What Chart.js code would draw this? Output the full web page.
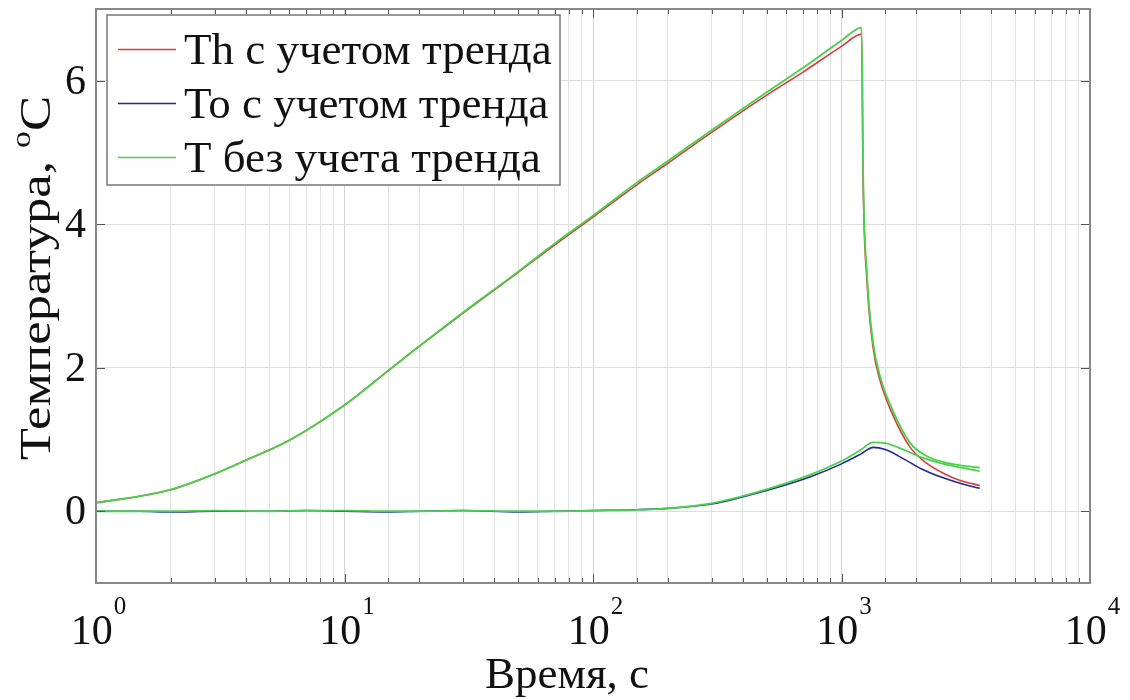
<!DOCTYPE html>
<html>
<head>
<meta charset="utf-8">
<script src="https://cdn.jsdelivr.net/npm/chart.js@4/dist/chart.umd.min.js"></script>
<style>
  html, body { margin: 0; padding: 0; background: #fff; }
  #wrap { width: 1130px; height: 700px; }
</style>
</head>
<body>
<div id="wrap"><canvas id="c" width="1130" height="700"></canvas></div>
<script>
// upper curve (heating then cooling), time in s
const timeTop = [1, 1.5, 2, 3, 4, 6, 10, 15, 20, 30, 50, 70, 100, 150, 200, 300, 500, 700, 1000, 1205, 1222, 1267, 1340, 1430, 1600, 1890, 2200, 2600, 3000, 3600];
const thTrend = [0.12, 0.21, 0.30, 0.52, 0.71, 0.99, 1.48, 1.96, 2.30, 2.76, 3.33, 3.71, 4.10, 4.55, 4.85, 5.28, 5.80, 6.12, 6.48, 6.65, 4.60, 3.20, 2.28, 1.82, 1.36, 0.89, 0.67, 0.52, 0.43, 0.36];
const thNoTrend = [0.12, 0.21, 0.30, 0.52, 0.71, 0.99, 1.48, 1.96, 2.30, 2.77, 3.34, 3.73, 4.12, 4.58, 4.88, 5.31, 5.84, 6.18, 6.56, 6.74, 4.70, 3.28, 2.35, 1.88, 1.42, 0.95, 0.77, 0.68, 0.64, 0.61];

// lower curve
const timeLow = [1, 1.5, 2, 3, 5, 7, 10, 15, 20, 30, 50, 70, 100, 150, 200, 300, 400, 550, 750, 1000, 1200, 1340, 1500, 1800, 2100, 2500, 3000, 3600];
const toTrend = [0.00, 0.00, -0.01, 0.00, 0.00, 0.01, 0.00, -0.01, 0.00, 0.01, -0.01, 0.00, 0.01, 0.02, 0.04, 0.10, 0.20, 0.33, 0.48, 0.66, 0.80, 0.89, 0.86, 0.72, 0.59, 0.48, 0.39, 0.32];
const toNoTrend = [0.00, 0.00, 0.00, 0.01, 0.00, 0.01, 0.01, 0.00, 0.00, 0.01, 0.00, 0.00, 0.01, 0.02, 0.04, 0.11, 0.21, 0.35, 0.51, 0.70, 0.86, 0.96, 0.95, 0.85, 0.75, 0.67, 0.61, 0.56];

const seriesNames = ["Th с учетом тренда", "To с учетом тренда", "T без учета тренда"];
const xDecades = [1, 10, 100, 1000, 10000];
const yTicks = [0, 2, 4, 6];

const RED = "#e0393c", BLUE = "#26279a", GREEN = "#46d34a";
const serif = "'Liberation Serif', 'Times New Roman', serif";

function pts(xs, ys) {
  return xs.map((x, i) => ({ x: x, y: ys[i] }));
}

function isDecade(v) {
  const l = Math.log10(v);
  return Math.abs(l - Math.round(l)) < 1e-9;
}

const decor = {
  id: "decor",
  beforeDraw(chart) {
    const c = chart.ctx;
    c.save();
    c.fillStyle = "#fff";
    c.fillRect(0, 0, chart.width, chart.height);
    c.restore();
  },
  afterDraw(chart) {
    const c = chart.ctx, a = chart.chartArea;
    const xs = chart.scales.x, ys = chart.scales.y;
    c.save();

    // inward ticks like matlab
    c.strokeStyle = "#555";
    c.lineWidth = 1;
    c.beginPath();
    xs.ticks.forEach(t => {
      const px = Math.round(xs.getPixelForValue(t.value)) + 0.5;
      const len = isDecade(t.value) ? 9 : 5;
      c.moveTo(px, a.bottom); c.lineTo(px, a.bottom - len);
      c.moveTo(px, a.top); c.lineTo(px, a.top + len);
    });
    yTicks.forEach(v => {
      const py = Math.round(ys.getPixelForValue(v)) + 0.5;
      c.moveTo(a.left, py); c.lineTo(a.left + 9, py);
      c.moveTo(a.right, py); c.lineTo(a.right - 9, py);
    });
    c.stroke();

    // box
    c.strokeStyle = "#888";
    c.lineWidth = 2;
    c.strokeRect(a.left, a.top, a.right - a.left, a.bottom - a.top);

    // y tick labels
    c.fillStyle = "#111";
    c.font = "42px " + serif;
    c.textAlign = "right";
    c.textBaseline = "middle";
    yTicks.forEach(v => c.fillText(String(v), a.left - 10, ys.getPixelForValue(v) + 2));

    // x tick labels 10^n
    c.textAlign = "left";
    c.textBaseline = "alphabetic";
    xDecades.forEach(v => {
      const e = String(Math.round(Math.log10(v)));
      c.font = "42px " + serif;
      const w1 = c.measureText("10").width;
      c.font = "25px " + serif;
      const w2 = c.measureText(e).width;
      const x0 = xs.getPixelForValue(v) - (w1 + w2) / 2 + 2;
      c.font = "42px " + serif;
      c.fillText("10", x0, 644);
      c.font = "25px " + serif;
      c.fillText(e, x0 + w1 + 1, 614);
    });

    // x title
    c.font = "45px " + serif;
    c.textAlign = "center";
    c.fillText("Время, с", 567, 688);

    // y title with superscript o, stretched along its length
    c.translate(50, 278);
    c.rotate(-Math.PI / 2);
    c.scale(1.2, 1);
    const p1 = "Температура, ", p2 = "o", p3 = "C";
    c.font = "44px " + serif;
    const w1 = c.measureText(p1).width, w3 = c.measureText(p3).width;
    c.font = "28px " + serif;
    const w2 = c.measureText(p2).width;
    let x = -(w1 + w2 + w3) / 2;
    c.textAlign = "left";
    c.font = "44px " + serif;
    c.fillText(p1, x, 0);
    c.font = "28px " + serif;
    c.fillText(p2, x + w1, -20);
    c.font = "44px " + serif;
    c.fillText(p3, x + w1 + w2, 0);
    c.setTransform(1, 0, 0, 1, 0, 0);

    // legend box
    c.fillStyle = "#fff";
    c.fillRect(107, 15, 453, 170);
    c.strokeStyle = "#777";
    c.lineWidth = 1.5;
    c.strokeRect(107, 15, 453, 170);
    c.font = "45px " + serif;
    c.textAlign = "left";
    c.textBaseline = "alphabetic";
    seriesNames.forEach((name, i) => {
      const ds = chart.data.datasets[i];
      const cy = 49 + i * 54;
      c.strokeStyle = ds.borderColor;
      c.lineWidth = 1.5;
      c.beginPath();
      c.moveTo(118, cy + 0.5);
      c.lineTo(176, cy + 0.5);
      c.stroke();
      c.fillStyle = "#111";
      c.fillText(name, 184, cy + 15);
    });

    c.restore();
  }
};

new Chart(document.getElementById("c"), {
  type: "scatter",
  data: {
    datasets: [
      { label: seriesNames[0], data: pts(timeTop, thTrend), borderColor: RED, borderWidth: 1.6, order: 2 },
      { label: seriesNames[1], data: pts(timeLow, toTrend), borderColor: BLUE, borderWidth: 1.6, order: 3 },
      { label: seriesNames[2], data: pts(timeTop, thNoTrend), borderColor: GREEN, borderWidth: 1.8, order: 0 },
      { label: seriesNames[2], data: pts(timeLow, toNoTrend), borderColor: GREEN, borderWidth: 1.8, order: 1 }
    ].map(d => Object.assign(d, { showLine: true, pointRadius: 0, pointHoverRadius: 0, cubicInterpolationMode: "monotone", fill: false }))
  },
  options: {
    responsive: false,
    animation: false,
    layout: { padding: { left: 96, top: 9, right: 40, bottom: 117 } },
    plugins: { legend: { display: false }, tooltip: { enabled: false } },
    scales: {
      x: {
        type: "logarithmic",
        min: 1,
        max: 10000,
        ticks: { display: false },
        border: { display: false },
        grid: {
          drawTicks: false,
          color: ctx => (ctx.tick && isDecade(ctx.tick.value)) ? "#d4d4d4" : "#e2e2e2",
          lineWidth: 1
        }
      },
      y: {
        type: "linear",
        min: -1,
        max: 7,
        afterBuildTicks: s => { s.ticks = yTicks.map(v => ({ value: v })); },
        ticks: { display: false },
        border: { display: false },
        grid: { drawTicks: false, color: "#dedede", lineWidth: 1 }
      }
    }
  },
  plugins: [decor]
});
</script>
</body>
</html>
